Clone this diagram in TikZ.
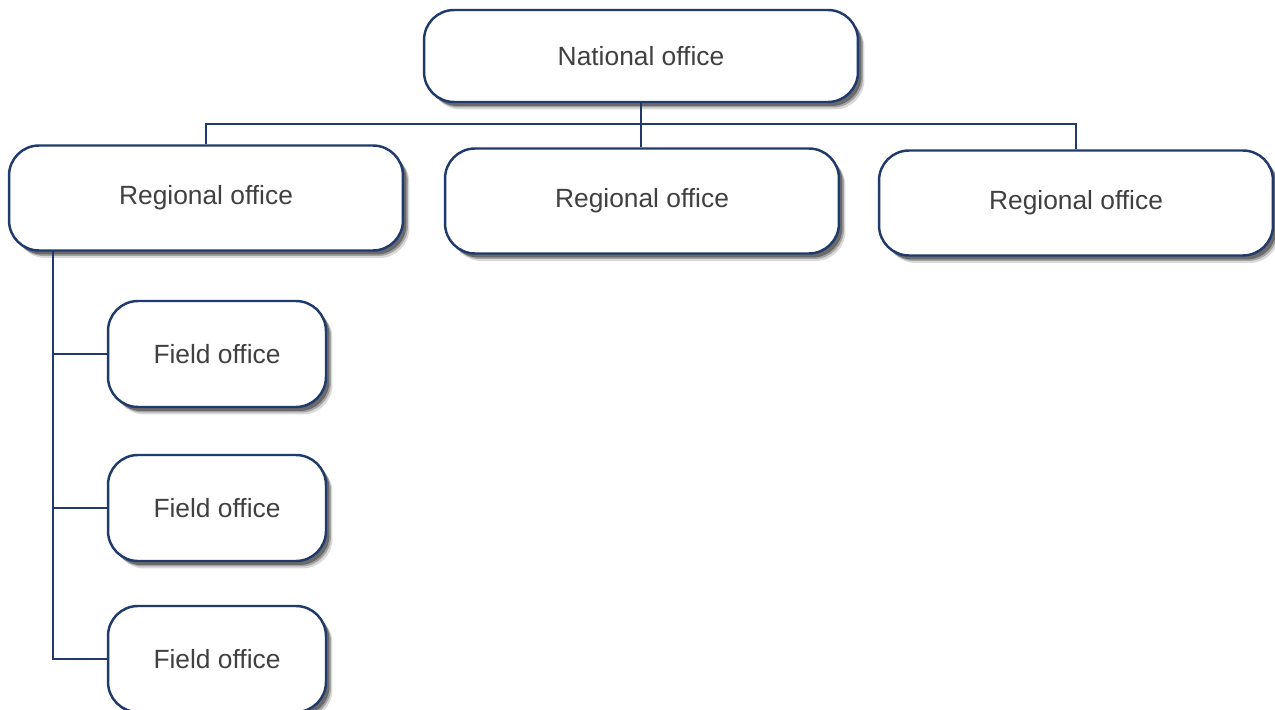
\documentclass[tikz,border=0pt]{standalone}
\usepackage{fontspec}
\setmainfont{Liberation Sans}
\usetikzlibrary{positioning, shadows}
\definecolor{lineColor}{HTML}{1F3A6B}
\definecolor{textColor}{HTML}{404040}
\tikzset{
    office/.style={
        rectangle,
        rounded corners=0.6cm,
        draw=lineColor,
        line width=1.4pt,
        fill=white,
        text=textColor,
        font=\fontsize{15}{18}\selectfont,
        drop shadow={shadow xshift=0.13cm, shadow yshift=-0.15cm,
                     fill=black, opacity=0.15},
        drop shadow={shadow xshift=0.1cm, shadow yshift=-0.11cm,
                     fill=black, opacity=0.25},
        drop shadow={shadow xshift=0.07cm, shadow yshift=-0.08cm,
                     fill=black, opacity=0.35},
    },
    national box/.style={office, minimum width=8.68cm, minimum height=1.84cm},
    regional box/.style={office, minimum width=7.88cm, minimum height=2.1cm},
    field box/.style={office, minimum width=4.36cm, minimum height=2.12cm},
    link/.style={
        draw=lineColor,
        line width=1.1pt,
    },
}

\begin{document}
\begin{tikzpicture}[x=0.02cm, y=-0.02cm]

\clip (0,0) rectangle (1275,710);
\useasboundingbox (0,0) rectangle (1275,710);

% ── CONNECTORS ─────────────────────────────────────────────────────

\coordinate (bus) at (641,124);
\coordinate (spine) at (53,250);

% ── NATIONAL ───────────────────────────────────────────────────────

\node[national box] (national) at (641,56) {National office};

% ── REGIONAL ───────────────────────────────────────────────────────

\node[regional box] (regA) at (206,198) {Regional office};
\node[regional box] (regB) at (642,201) {Regional office};
\node[regional box] (regC) at (1076,203) {Regional office};

% ── FIELD ──────────────────────────────────────────────────────────

\node[field box] (fieldA) at (217,354) {Field office};
\node[field box] (fieldB) at (217,508) {Field office};
\node[field box] (fieldC) at (217,659) {Field office};

% ── LINKS ──────────────────────────────────────────────────────────

% National -> Regional
\draw[link] (national.south) -- (national.south |- regB.north);
\draw[link] (regA.north) |- (bus) -| (regC.north);

% Regional -> Field
\draw[link] (spine) |- (fieldC.west);
\draw[link] (spine |- fieldA.west) -- (fieldA.west);
\draw[link] (spine |- fieldB.west) -- (fieldB.west);

\end{tikzpicture}
\end{document}
